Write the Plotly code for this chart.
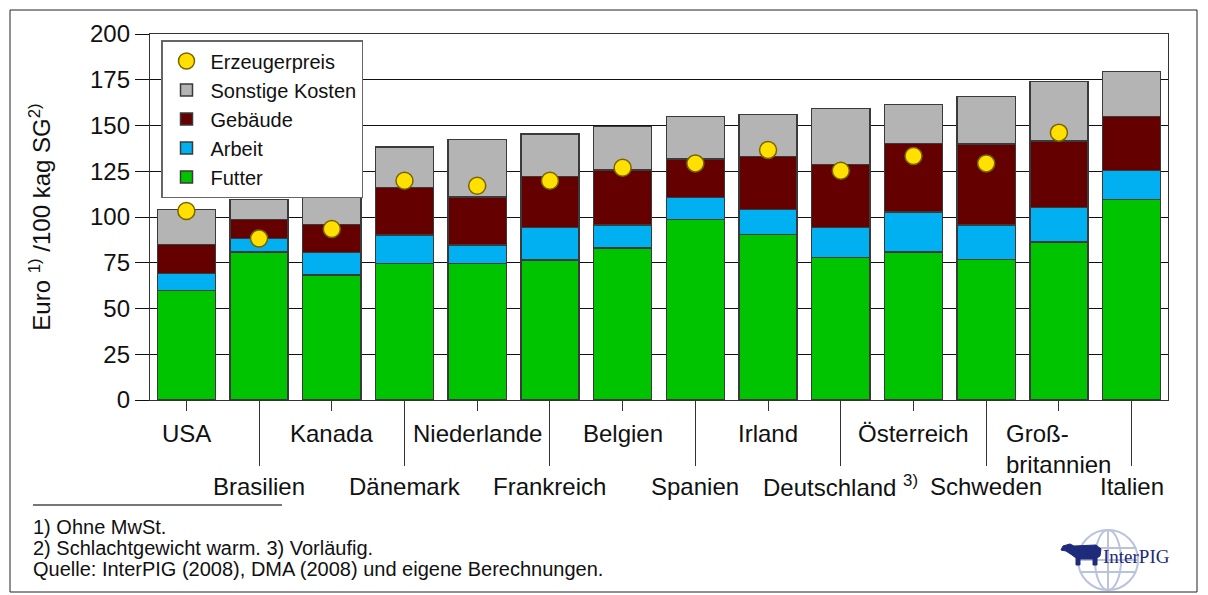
import plotly.graph_objects as go

# Daten (Euro je 100 kg SG)
countries = ["USA", "Brasilien", "Kanada", "Dänemark", "Niederlande", "Frankreich", "Belgien",
             "Spanien", "Irland", "Deutschland", "Österreich", "Schweden", "Großbritannien", "Italien"]
tick_labels = ["USA", "Brasilien", "Kanada", "Dänemark", "Niederlande", "Frankreich", "Belgien",
               "Spanien", "Irland", "Deutschland <sup>3)</sup>", "Österreich", "Schweden",
               "Groß-<br>britannien", "Italien"]
futter = [59.9, 80.9, 68.3, 74.7, 74.7, 76.5, 83.1, 98.7, 90.5, 78.0, 80.9, 76.7, 86.3, 109.7]
arbeit = [9.3, 7.4, 12.2, 15.5, 10.0, 17.9, 12.5, 11.9, 13.7, 16.4, 21.9, 18.9, 18.9, 15.8]
gebaeude = [15.9, 10.4, 15.3, 26.0, 26.1, 27.8, 30.1, 21.1, 28.8, 34.4, 37.3, 44.3, 36.3, 29.5]
sonstige = [19.1, 10.8, 15.0, 22.1, 31.6, 23.2, 23.7, 23.1, 23.1, 30.4, 21.5, 25.9, 32.5, 24.4]
erzeugerpreis = [103.3, 88.3, 93.4, 119.8, 117.1, 119.8, 126.9, 129.3, 136.6, 125.3, 133.3, 129.3, 146.1, None]
footnotes = ["1) Ohne MwSt.", "2) Schlachtgewicht warm. 3) Vorläufig.",
             "Quelle: InterPIG (2008), DMA (2008) und eigene Berechnungen."]

FONT = "Liberation Sans, Arial, sans-serif"
OFF = 8                      # Rand des Browsers (body margin)
SW, SH = 1208, 595           # Fenster
L, R, T, B = 150, 1168, 34, 400  # Plotfläche in Fensterpixeln


def px(x):
    return (x - L) / (R - L)


def py(y):
    return (B - y) / (B - T)


fig = go.Figure()

edge = dict(color="#3a3a3a", width=1.5)
stack = [
    ("Futter", futter, "#00c400", 5),
    ("Arbeit", arbeit, "#00b0f0", 4),
    ("Gebäude", gebaeude, "#640000", 3),
    ("Sonstige Kosten", sonstige, "#b4b4b4", 2),
]
for name, vals, col, rank in stack:
    fig.add_trace(go.Bar(x=countries, y=vals, name=name, legendrank=rank,
                         marker=dict(color=col, line=edge), width=0.8))

fig.add_trace(go.Scatter(x=countries, y=erzeugerpreis, name="Erzeugerpreis", mode="markers",
                         legendrank=1,
                         marker=dict(size=17, color="#ffe000", line=dict(color="#7a6400", width=1.5))))

# unsichtbare Spur für die zweite x-Achse (lange Striche)
fig.add_trace(go.Scatter(x=countries, y=[None] * len(countries), xaxis="x2",
                         showlegend=False, hoverinfo="skip"))

# Ländernamen, versetzt in zwei Reihen
for i, (c, lab) in enumerate(zip(countries, tick_labels)):
    if c == "Großbritannien":
        fig.add_annotation(x=c, xref="x", y=0, yref="paper", yshift=-18, yanchor="top",
                           text=lab, showarrow=False, align="left",
                           font=dict(family=FONT, size=24, color="#111"))
    else:
        fig.add_annotation(x=c, xref="x", y=0, yref="paper",
                           yshift=-33 if i % 2 == 0 else -86, yanchor="middle",
                           text=lab, showarrow=False,
                           font=dict(family=FONT, size=24, color="#111"))

# Fußnoten
for k, line in enumerate(footnotes):
    fig.add_annotation(x=px(31), xref="paper", y=py(527 + 21 * k), yref="paper",
                       xanchor="left", yanchor="middle", showarrow=False, text=line,
                       font=dict(family=FONT, size=20, color="#111"))

shapes = [
    dict(type="line", xref="paper", yref="paper", x0=px(33), x1=px(282), y0=py(505), y1=py(505),
         line=dict(color="#777", width=2)),
    dict(type="rect", xref="paper", yref="paper", x0=px(10), x1=px(1197), y0=py(10), y1=py(592),
         line=dict(color="#222", width=1)),
]

# Logo InterPIG (Globus + Schwein)
gcx, gcy, gr = 1108, 560, 30
globe = dict(color="#b9c3dc", width=2)
shapes += [
    dict(type="circle", xref="paper", yref="paper", x0=px(gcx - gr), x1=px(gcx + gr),
         y0=py(gcy - gr), y1=py(gcy + gr), line=globe),
    dict(type="circle", xref="paper", yref="paper", x0=px(gcx - 13), x1=px(gcx + 13),
         y0=py(gcy - gr), y1=py(gcy + gr), line=globe),
    dict(type="line", xref="paper", yref="paper", x0=px(gcx), x1=px(gcx),
         y0=py(gcy - gr), y1=py(gcy + gr), line=globe),
    dict(type="line", xref="paper", yref="paper", x0=px(gcx - 27), x1=px(gcx + 27),
         y0=py(gcy - 12), y1=py(gcy - 12), line=globe),
    dict(type="line", xref="paper", yref="paper", x0=px(gcx - gr), x1=px(gcx + gr),
         y0=py(gcy), y1=py(gcy), line=globe),
    dict(type="line", xref="paper", yref="paper", x0=px(gcx - 27), x1=px(gcx + 27),
         y0=py(gcy + 12), y1=py(gcy + 12), line=globe),
]
pig = [(1063, 546), (1070, 544), (1074, 546), (1096, 545), (1101, 549), (1100, 556), (1097, 558),
       (1097, 565), (1093, 565), (1093, 559), (1080, 559), (1080, 565), (1076, 565), (1076, 558),
       (1072, 555), (1066, 551), (1061, 550)]
path = "M " + " L ".join(f"{px(a):.5f},{py(b):.5f}" for a, b in pig) + " Z"
shapes.append(dict(type="path", xref="paper", yref="paper", path=path,
                   fillcolor="#1e2a7a", line=dict(color="#1e2a7a", width=1)))
fig.add_annotation(x=px(1136), xref="paper", y=py(556), yref="paper",
                   xanchor="center", yanchor="middle", text="InterPIG", showarrow=False,
                   font=dict(family="Liberation Serif, serif", size=19, color="#1e2a7a"))

fig.update_layout(
    width=SW - OFF, height=SH - OFF,
    margin=dict(l=L - OFF, r=SW - R, t=T - OFF, b=SH - B),
    paper_bgcolor="white", plot_bgcolor="white",
    barmode="stack", bargap=0.2,
    font=dict(family=FONT, color="#111"),
    shapes=shapes,
    showlegend=True,
    legend=dict(x=px(161), y=py(40), xanchor="left", yanchor="top", traceorder="normal",
                bgcolor="white", bordercolor="#666", borderwidth=1.5,
                font=dict(family=FONT, size=20, color="#111"), itemwidth=38),
    xaxis=dict(type="category", categoryorder="array", categoryarray=countries,
               range=[-0.5, 13.5], showticklabels=False, ticks="outside", ticklen=10,
               tickcolor="#333", tickwidth=1.3, showline=True, linecolor="#333", linewidth=1.3,
               mirror=True, showgrid=False),
    xaxis2=dict(overlaying="x", matches="x", anchor="y", side="bottom", showticklabels=False,
                tickmode="array", tickvals=countries[1::2], ticks="outside", ticklen=65,
                tickcolor="#333", tickwidth=1.3, showgrid=False, showline=False),
    yaxis=dict(range=[0, 200], dtick=25, ticks="outside", ticklen=14, tickcolor="#111",
               tickwidth=1.3, showgrid=True, gridcolor="#111", gridwidth=1.2,
               showline=True, linecolor="#333", linewidth=1.3, mirror=True, zeroline=False,
               tickfont=dict(family=FONT, size=24, color="#111"),
               title=dict(text="Euro <sup>1)</sup> /100 kag SG<sup>2)</sup>", standoff=32,
                          font=dict(family=FONT, size=24, color="#111"))),
)

fig.write_html("out.html")
